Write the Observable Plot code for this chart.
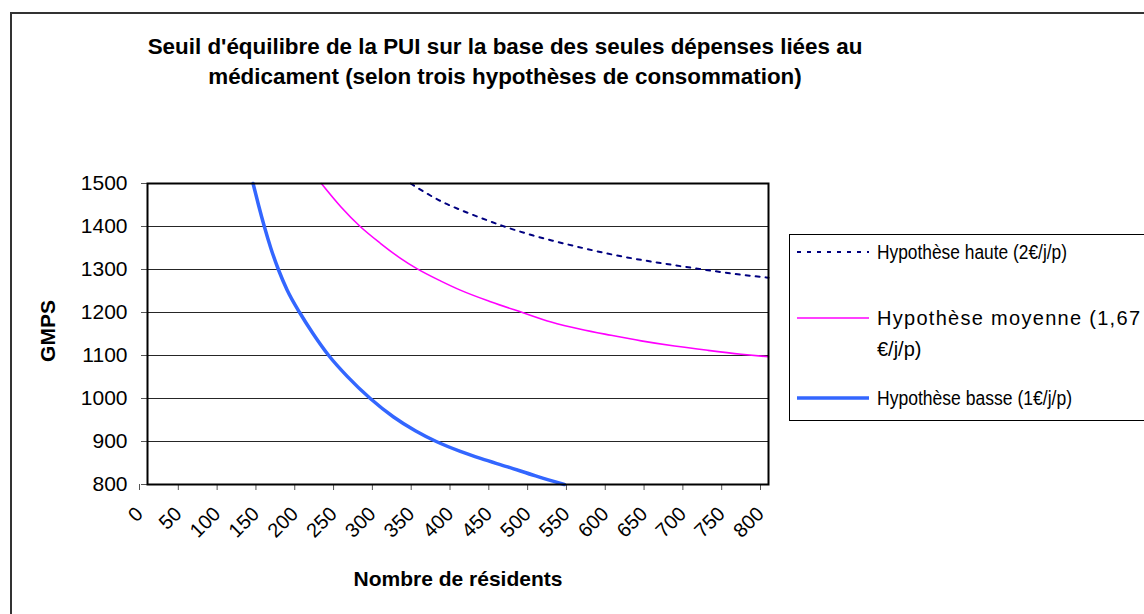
<!DOCTYPE html>
<html><head><meta charset="utf-8">
<script src="https://cdn.jsdelivr.net/npm/d3@7"></script>
<script src="https://cdn.jsdelivr.net/npm/@observablehq/plot@0.6"></script>
<style>
body{margin:0;background:#fff;font-family:"Liberation Sans",Arial,sans-serif;}
#wrap{position:relative;width:1144px;height:614px;overflow:hidden;background:#fff;}
#frame{position:absolute;left:10px;top:12px;width:1300px;height:800px;border-left:2px solid #333;border-top:2px solid #333;}
#title{position:absolute;left:0;width:1010px;top:32px;text-align:center;font-weight:bold;font-size:22.4px;line-height:30px;color:#000;}
#chart{position:absolute;left:0;top:0;}
#ytitle{position:absolute;left:48px;top:331px;transform:translate(-50%,-50%) rotate(-90deg);font-weight:bold;font-size:21px;white-space:nowrap;}
#xtitle{position:absolute;left:458px;top:579px;transform:translate(-50%,-50%);font-weight:bold;font-size:21px;white-space:nowrap;}
#legend{position:absolute;left:0;top:0;}
</style></head>
<body><div id="wrap">
<div id="frame"></div>
<div id="title">Seuil d'équilibre de la PUI sur la base des seules dépenses liées au<br>médicament (selon trois hypothèses de consommation)</div>
<div id="chart"></div>
<div id="ytitle">GMPS</div>
<div id="xtitle">Nombre de résidents</div>
<svg id="legend" width="1144" height="614"></svg>
</div>
<script>
// Series
const hauteLabel = "Hypothèse haute (2€/j/p)";
const moyenneLabel = ["Hypothèse moyenne (1,67", "€/j/p)"];
const basseLabel = "Hypothèse basse (1€/j/p)";
const hauteN = [339, 380, 404, 428, 463, 497, 522, 563, 598, 637, 675, 716, 755, 800];
const hauteV = [1500, 1457, 1438, 1421, 1398, 1379, 1367, 1349, 1335, 1322, 1311, 1300, 1290, 1281];
const moyenneN = [224, 249, 274, 300, 326, 347, 378, 403, 442, 483, 520, 558, 597, 636, 679, 722, 765, 800];
const moyenneV = [1500, 1446, 1400, 1361, 1326, 1302, 1273, 1252, 1225, 1200, 1178, 1161, 1147, 1134, 1122, 1112, 1103, 1097];
const basseN = [136, 143, 150.5, 159, 168.6, 180, 196, 214, 233.5, 257, 287, 317, 345, 372, 403, 430, 464, 500, 537];
const basseV = [1500, 1450, 1400, 1349, 1300, 1252, 1200, 1149, 1100, 1052, 1000, 957, 925, 900, 877, 860, 841, 820, 800];
const xTicks = [0, 50, 100, 150, 200, 250, 300, 350, 400, 450, 500, 550, 600, 650, 700, 750, 800];
const yTicks = [800, 900, 1000, 1100, 1200, 1300, 1400, 1500];

const toRows = (ns, vs) => ns.map((n, i) => ({n, v: vs[i]}));
const haute = toRows(hauteN, hauteV);
const moyenne = toRows(moyenneN, moyenneV);
const basse = toRows(basseN, basseV);

const chart = Plot.plot({
  width: 1144, height: 614,
  marginLeft: 147, marginRight: 376, marginTop: 183, marginBottom: 130,
  style: {fontFamily: '"Liberation Sans", Arial, sans-serif', fontSize: "20px", background: "transparent", color: "#000"},
  x: {domain: [0, 800]},
  y: {domain: [800, 1500]},
  marks: [
    Plot.gridY(yTicks, {stroke: "#000", strokeOpacity: 0.85, strokeWidth: 1}),
    Plot.axisY(yTicks, {tickSize: 6, tickPadding: 14, label: null, tickFormat: d => String(d), fontSize: 21, stroke: "#555"}),
    Plot.axisX(xTicks, {tickSize: 6, tickPadding: 20, tickRotate: -45, label: null, tickFormat: d => String(d), fontSize: 20, stroke: "#555", dx: -8}),
    Plot.line(basse, {x: "n", y: "v", stroke: "#3366ff", strokeWidth: 3.5, curve: "monotone-x"}),
    Plot.line(moyenne, {x: "n", y: "v", stroke: "#ff00ff", strokeWidth: 1.6, curve: "monotone-x"}),
    Plot.line(haute, {x: "n", y: "v", stroke: "#000080", strokeWidth: 2, strokeDasharray: "4,6", curve: "monotone-x"}),
    Plot.frame({stroke: "#000", strokeWidth: 2})
  ]
});
document.getElementById("chart").appendChild(chart);

// Legend
const lg = d3.select("#legend");
lg.append("rect").attr("x", 789.5).attr("y", 234.5).attr("width", 400).attr("height", 186)
  .attr("fill", "none").attr("stroke", "#000").attr("stroke-width", 1);
const rows = [
  {y: 252, stroke: "#000080", w: 2, dash: "4,6", lines: [hauteLabel], len: [190]},
  {y: 318, stroke: "#ff00ff", w: 1.6, dash: null, lines: moyenneLabel, len: [263, null], adj: "spacing"},
  {y: 398, stroke: "#3366ff", w: 3.5, dash: null, lines: [basseLabel], len: [195]}
];
rows.forEach(r => {
  const l = lg.append("line").attr("x1", 797).attr("x2", 869).attr("y1", r.y).attr("y2", r.y)
    .attr("stroke", r.stroke).attr("stroke-width", r.w);
  if (r.dash) l.attr("stroke-dasharray", r.dash);
  r.lines.forEach((t, i) => {
    const tx = lg.append("text").attr("x", 877).attr("y", r.y + i * 31).attr("dy", "0.35em")
      .attr("font-family", '"Liberation Sans", Arial, sans-serif').attr("font-size", 20).text(t);
    if (r.len[i]) tx.attr("textLength", r.len[i]).attr("lengthAdjust", r.adj || "spacingAndGlyphs");
  });
});
</script>
</body></html>
